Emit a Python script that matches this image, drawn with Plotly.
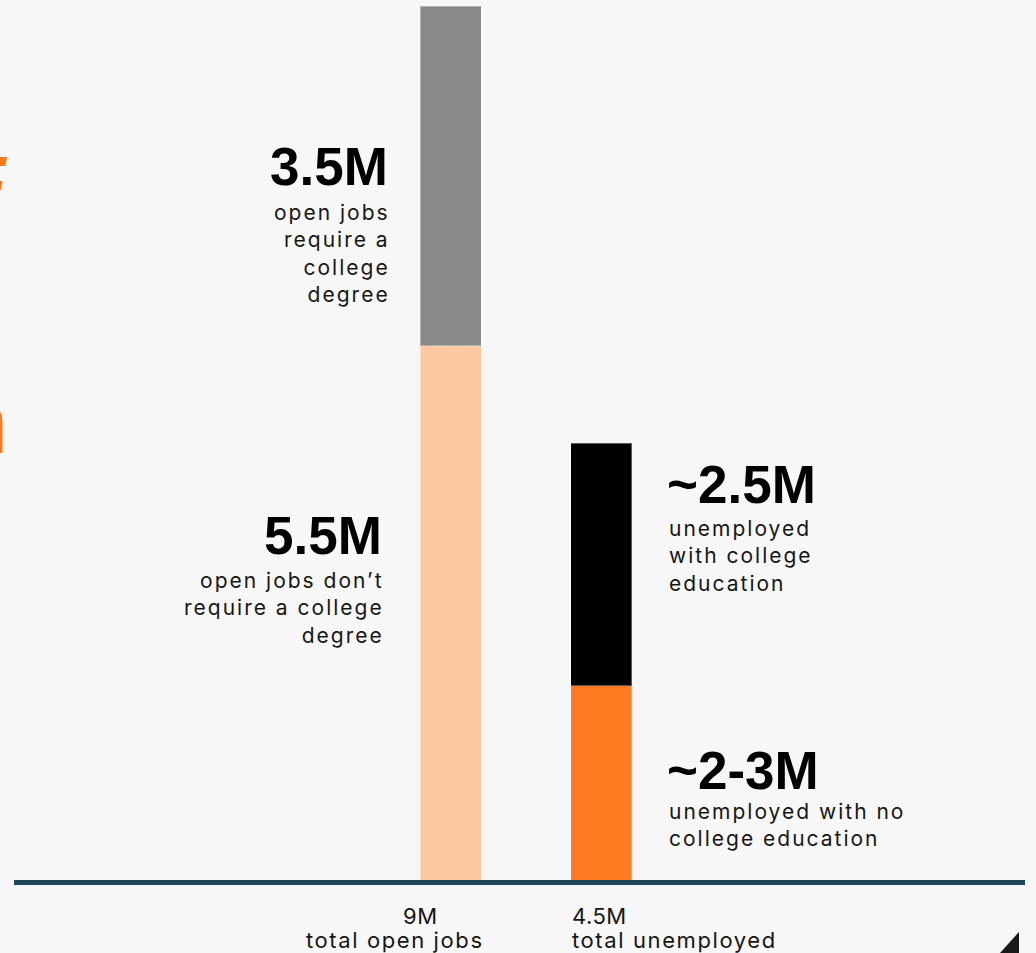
import plotly.graph_objects as go

# ---- data (millions) ----
categories = ["open jobs", "unemployed"]
jobs_no_degree = [5.5, None]      # open jobs that don't require a college degree
jobs_degree = [3.5, None]         # open jobs that require a college degree
unemp_no_college = [None, 2.0]    # unemployed with no college education (~2-3M)
unemp_college = [None, 2.5]       # unemployed with college education (~2.5M)
totals = ["9M", "4.5M"]
total_labels = ["total open jobs", "total unemployed"]

W, H = 1036, 953
BG = "#f7f7f7"

# canvas geometry (pixels)
BASE_Y = 880          # baseline of the bars
TOP_Y = 6             # where the 9M bar ends
AX_L, AX_R = 14, 1025
C0, C1 = 450.5, 601.0  # bar centres
BAR_W = 61


def px(x):
    return x / W


def py(y):
    return 1 - y / H


unit = C1 - C0
x_lo = 0 - (C0 - AX_L) / unit
x_hi = 1 + (AX_R - C1) / unit
total_max = (jobs_no_degree[0] or 0) + (jobs_degree[0] or 0)
y_hi = total_max * BASE_Y / (BASE_Y - TOP_Y)

fig = go.Figure()
xs = [0, 1]
edge = dict(width=1, color="rgba(255,255,255,0.35)")
fig.add_bar(x=xs, y=jobs_no_degree, marker=dict(color="#fec8a2", line=edge), width=BAR_W / unit)
fig.add_bar(x=xs, y=jobs_degree, marker=dict(color="#898989", line=edge), width=BAR_W / unit)
fig.add_bar(x=xs, y=unemp_no_college, marker=dict(color="#ff7a20", line=edge), width=BAR_W / unit)
fig.add_bar(x=xs, y=unemp_college, marker=dict(color="#000000", line=edge), width=BAR_W / unit)

BIG = dict(family="Liberation Sans, Arial, sans-serif", size=53, color="#000000", weight="bold")
SMALL = dict(family="Inter, sans-serif", size=21, color="#161616")
FOOT = dict(family="Inter, sans-serif", size=22, color="#161616")

ann = []


def spaced(text, sp):
    lines = text.split("<br>")
    return "<br>".join(f'<span style="letter-spacing:{sp}px">{ln}</span>' for ln in lines)


def note(text, x, y, xanchor, font, align=None, yanchor="middle"):
    ann.append(dict(text=text, x=px(x), y=py(y), xref="paper", yref="paper",
                    xanchor=xanchor, yanchor=yanchor, showarrow=False,
                    font=font, align=align or xanchor))


# labels beside the open-jobs bar
note(f"{jobs_degree[0]}M", 390, 166, "right", BIG)
note(spaced("open jobs<br>require a<br>college<br>degree", 2), 392, 254, "right", SMALL)
note(f"{jobs_no_degree[0]}M", 384, 535, "right", BIG)
note(spaced("open jobs don\u2019t<br>require a college<br>degree", 2), 386, 608, "right", SMALL)

# labels beside the unemployed bar
note(f"~{unemp_college[1]}M", 665, 484, "left", BIG)
note(spaced("unemployed<br>with college<br>education", 2), 667, 556, "left", SMALL)
note("~2-3M", 665, 770, "left", BIG)
note(spaced("unemployed with no<br>college education", 2), 667, 825, "left", SMALL)

# totals under the baseline
note(spaced(totals[0], 0.5), 420, 916, "center", FOOT)
note(spaced(total_labels[0], 1.6), 395, 940, "center", FOOT)
note(spaced(totals[1], 0.5), 570, 916, "left", FOOT)
note(spaced(total_labels[1], 1.6), 570, 940, "left", FOOT)

# headline text running off the left edge
note(":", 12, 168, "right", dict(family="Liberation Sans, Arial, sans-serif", size=64,
                                  color="#ff7a1f", weight="bold", style="italic"))
note("n", 10, 422, "right", dict(family="Liberation Sans, Arial, sans-serif", size=90,
                                  color="#ff7a1f", weight="bold"))

fig.update_layout(
    width=W, height=H,
    margin=dict(l=0, r=0, t=0, b=0),
    paper_bgcolor=BG, plot_bgcolor=BG,
    barmode="stack", showlegend=False,
    annotations=ann,
    xaxis=dict(domain=[px(AX_L), px(AX_R)], range=[x_lo, x_hi],
               showgrid=False, zeroline=False, showticklabels=False, ticks="",
               showline=True, linecolor="#21465a", linewidth=5),
    yaxis=dict(domain=[py(BASE_Y), 1], range=[0, y_hi],
               showgrid=False, zeroline=False, showticklabels=False, ticks="",
               showline=False),
    shapes=[dict(type="path", xref="paper", yref="paper",
                 path=f"M {px(1000)} {py(953)} L {px(1019)} {py(932)} L {px(1019)} {py(953)} Z",
                 fillcolor="#1a1a1a", line=dict(width=0))],
)

fig.write_html("out.html")
